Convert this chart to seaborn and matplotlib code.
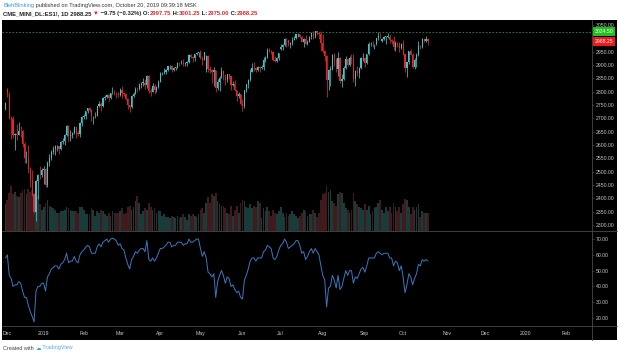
import numpy as np
import pandas as pd
import matplotlib
matplotlib.use('Agg')
import matplotlib.pyplot as plt
from matplotlib.patches import Rectangle
from matplotlib.lines import Line2D
from matplotlib.transforms import blended_transform_factory
import seaborn as sns

# ES1! daily bars, 2018-11-30 .. 2019-10-18
first_day = '2018-11-30'
holidays = ['2018-12-05', '2018-12-25', '2019-01-01', '2019-01-21', '2019-02-18',
            '2019-04-19', '2019-05-27', '2019-07-04', '2019-09-02', '2019-11-28',
            '2019-12-25', '2020-01-01', '2020-01-20', '2020-02-17']

opens = [2737, 2812, 2792, 2703, 2697, 2636, 2640, 2639, 2654, 2653,
         2604, 2552, 2552, 2510, 2469, 2418, 2351, 2467, 2488, 2486,
         2507, 2511, 2450, 2533, 2550, 2575, 2586, 2597, 2597, 2584,
         2611, 2617, 2637, 2672, 2634, 2639, 2644, 2666, 2645, 2641,
         2683, 2705, 2708, 2726, 2738, 2733, 2708, 2709, 2710, 2745,
         2755, 2747, 2777, 2781, 2786, 2776, 2794, 2797, 2795, 2794,
         2786, 2806, 2794, 2791, 2773, 2750, 2744, 2785, 2793, 2812,
         2810, 2824, 2834, 2834, 2826, 2857, 2803, 2800, 2820, 2807,
         2817, 2836, 2869, 2869, 2875, 2882, 2895, 2897, 2880, 2890,
         2890, 2909, 2908, 2909, 2902, 2908, 2910, 2936, 2929, 2928,
         2942, 2945, 2948, 2926, 2920, 2880, 2935, 2886, 2881, 2873,
         2883, 2813, 2836, 2853, 2878, 2862, 2842, 2866, 2859, 2824,
         2828, 2805, 2785, 2790, 2754, 2746, 2805, 2828, 2845, 2875,
         2888, 2887, 2881, 2892, 2889, 2891, 2919, 2928, 2956, 2952,
         2947, 2919, 2915, 2926, 2960, 2966, 2975, 2998, 2992, 2978,
         2981, 2995, 3002, 3015, 3016, 3006, 2987, 2997, 2979, 2987,
         3006, 3021, 3006, 3027, 3021, 3015, 2982, 2954, 2934, 2845,
         2883, 2884, 2939, 2920, 2884, 2927, 2841, 2849, 2889, 2924,
         2901, 2925, 2923, 2848, 2879, 2870, 2889, 2925, 2927, 2908,
         2940, 2978, 2980, 2979, 2980, 3001, 3010, 2990, 2998, 3006,
         3006, 3006, 2992, 2991, 2966, 2984, 2978, 2962, 2978, 2941,
         2888, 2911, 2952, 2939, 2893, 2919, 2939, 2970, 2966, 2997,
         2991, 2997.75]

highs = [2762, 2815, 2798, 2708, 2709, 2645, 2680, 2685, 2672, 2657,
         2612, 2576, 2600, 2516, 2508, 2420, 2469, 2490, 2520, 2513,
         2520, 2513, 2539, 2568, 2582, 2597, 2599, 2600, 2598, 2614,
         2627, 2643, 2676, 2675, 2657, 2648, 2673, 2668, 2652, 2688,
         2708, 2717, 2727, 2740, 2742, 2735, 2710, 2724, 2748, 2764,
         2762, 2780, 2787, 2791, 2790, 2795, 2818, 2806, 2799, 2798,
         2815, 2823, 2800, 2796, 2775, 2752, 2788, 2800, 2819, 2816,
         2832, 2837, 2852, 2846, 2861, 2862, 2813, 2832, 2828, 2822,
         2843, 2872, 2874, 2889, 2884, 2897, 2900, 2899, 2893, 2894,
         2911, 2913, 2918, 2922, 2911, 2914, 2940, 2940, 2933, 2943,
         2950, 2950, 2956, 2934, 2950, 2937, 2938, 2898, 2884, 2892,
         2883, 2848, 2860, 2892, 2880, 2862, 2868, 2868, 2860, 2840,
         2843, 2806, 2800, 2791, 2771, 2808, 2830, 2848, 2884, 2906,
         2913, 2891, 2898, 2895, 2899, 2931, 2934, 2962, 2965, 2956,
         2952, 2933, 2930, 2945, 2980, 2978, 3000, 3001, 2994, 2987,
         3006, 3008, 3016, 3020, 3018, 3010, 3000, 3013, 2994, 3008,
         3022, 3027, 3028, 3029, 3022, 3027, 3018, 2955, 2936, 2884,
         2895, 2940, 2946, 2925, 2947, 2929, 2866, 2895, 2934, 2928,
         2932, 2940, 2941, 2880, 2898, 2893, 2931, 2944, 2930, 2941,
         2985, 2985, 2989, 2980, 3003, 3022, 3021, 3000, 3007, 3008,
         3021, 3017, 2999, 3007, 2989, 2988, 2988, 2983, 2995, 2943,
         2913, 2954, 2960, 2946, 2926, 2946, 2991, 2975, 3000, 3002,
         3008, 3001.25]

lows = [2730, 2782, 2698, 2621, 2627, 2583, 2620, 2638, 2632, 2594,
        2531, 2534, 2497, 2444, 2410, 2346, 2317, 2397, 2472, 2480,
        2456, 2444, 2443, 2522, 2545, 2568, 2563, 2578, 2568, 2580,
        2604, 2600, 2634, 2617, 2615, 2625, 2643, 2628, 2633, 2631,
        2673, 2697, 2699, 2722, 2725, 2689, 2680, 2702, 2708, 2742,
        2727, 2743, 2768, 2775, 2765, 2773, 2790, 2786, 2776, 2780,
        2785, 2775, 2783, 2768, 2737, 2724, 2740, 2780, 2790, 2800,
        2806, 2815, 2823, 2812, 2815, 2796, 2785, 2798, 2791, 2799,
        2815, 2835, 2862, 2866, 2868, 2876, 2884, 2875, 2876, 2882,
        2888, 2898, 2903, 2895, 2895, 2896, 2906, 2925, 2912, 2916,
        2938, 2930, 2922, 2901, 2917, 2872, 2873, 2870, 2833, 2823,
        2800, 2808, 2802, 2850, 2845, 2826, 2838, 2849, 2806, 2822,
        2803, 2767, 2778, 2750, 2729, 2740, 2798, 2815, 2840, 2874,
        2879, 2873, 2878, 2874, 2885, 2882, 2910, 2926, 2948, 2942,
        2914, 2913, 2912, 2920, 2955, 2958, 2972, 2967, 2970, 2963,
        2975, 2992, 2998, 3006, 3000, 2986, 2969, 2977, 2976, 2985,
        2996, 2999, 3003, 3014, 2999, 2954, 2945, 2914, 2779, 2808,
        2823, 2880, 2898, 2875, 2858, 2834, 2818, 2842, 2885, 2898,
        2898, 2905, 2836, 2822, 2860, 2853, 2885, 2915, 2891, 2905,
        2938, 2972, 2969, 2960, 2976, 2992, 3002, 2988, 2992, 2979,
        3002, 2984, 2980, 2958, 2952, 2966, 2950, 2960, 2937, 2875,
        2855, 2902, 2936, 2890, 2886, 2893, 2934, 2959, 2965, 2986,
        2987, 2975]

closes = [2758, 2795, 2703, 2697, 2636, 2640, 2639, 2654, 2653, 2604,
          2552, 2552, 2510, 2469, 2418, 2351, 2467, 2488, 2486, 2507,
          2511, 2450, 2533, 2550, 2575, 2586, 2597, 2597, 2584, 2611,
          2617, 2637, 2672, 2634, 2639, 2644, 2666, 2645, 2641, 2683,
          2705, 2708, 2726, 2738, 2733, 2708, 2709, 2710, 2745, 2755,
          2747, 2777, 2781, 2786, 2776, 2794, 2797, 2795, 2794, 2786,
          2806, 2794, 2791, 2773, 2750, 2744, 2785, 2793, 2812, 2810,
          2824, 2834, 2834, 2826, 2857, 2803, 2800, 2820, 2807, 2817,
          2836, 2869, 2869, 2875, 2882, 2895, 2897, 2880, 2890, 2890,
          2909, 2908, 2909, 2902, 2908, 2910, 2936, 2929, 2928, 2942,
          2945, 2948, 2926, 2920, 2948, 2935, 2886, 2881, 2873, 2883,
          2813, 2836, 2853, 2878, 2862, 2842, 2866, 2859, 2824, 2828,
          2805, 2785, 2790, 2754, 2746, 2805, 2828, 2845, 2875, 2888,
          2887, 2881, 2892, 2889, 2891, 2919, 2928, 2956, 2952, 2947,
          2919, 2915, 2926, 2944, 2966, 2975, 2998, 2992, 2978, 2981,
          2995, 3002, 3015, 3016, 3006, 2987, 2997, 2979, 2987, 3006,
          3021, 3006, 3027, 3021, 3015, 2982, 2954, 2934, 2845, 2883,
          2884, 2939, 2920, 2884, 2927, 2841, 2849, 2889, 2924, 2901,
          2925, 2923, 2848, 2879, 2870, 2889, 2925, 2927, 2908, 2940,
          2978, 2980, 2979, 2980, 3001, 3010, 3008, 2998, 3006, 3006,
          3006, 2992, 2991, 2966, 2984, 2978, 2962, 2978, 2941, 2888,
          2911, 2952, 2939, 2893, 2919, 2939, 2970, 2966, 2997, 2991,
          2998, 2988.25]

# volume, thousands of contracts
volumes = [1900, 2200, 2700, 3200, 2600, 2800, 2500, 2400, 2700, 2900,
           3000, 2600, 3000, 2800, 2900, 1700, 2400, 2500, 1900, 1500,
           1700, 2000, 2200, 1800, 1700, 1600, 1500, 1300, 1300, 1400,
           1400, 1500, 1700, 1600, 1500, 1400, 1400, 1400, 1300, 1700,
           1700, 1500, 1200, 1200, 1200, 1600, 1500, 1100, 1400, 1300,
           1500, 1400, 1200, 1100, 1300, 1100, 1400, 1300, 1300, 1300,
           1400, 1600, 1200, 1300, 1700, 1800, 1500, 1700, 2100, 2500,
           2000, 1200, 1400, 1600, 1500, 2000, 1700, 1500, 1600, 1300,
           1400, 1400, 1100, 1200, 1000, 1000, 900, 1100, 1000, 900,
           1100, 900, 1000, 1200, 1000, 800, 1200, 1100, 1200, 1100,
           1000, 1200, 1500, 1600, 1300, 2000, 2400, 2000, 2600, 2500,
           2700, 2100, 1900, 1800, 1800, 1600, 1300, 1200, 1800, 1100,
           1500, 1800, 1300, 2000, 2200, 2100, 1700, 1600, 1900, 1600,
           1800, 1700, 2100, 2000, 900, 1600, 1400, 1700, 1400, 1100,
           1500, 1300, 1200, 1400, 1700, 1300, 1000, 1300, 1100, 1200,
           1400, 1200, 1100, 900, 1100, 1300, 1500, 1400, 1100, 1200,
           1200, 1500, 1300, 1000, 1300, 2200, 2600, 2700, 3200, 2800,
           2900, 2100, 2000, 1800, 2600, 2800, 2700, 2000, 1600, 1500,
           1300, 1500, 2700, 2100, 1900, 1700, 1600, 1500, 1900, 1500,
           1800, 1200, 1400, 1600, 1700, 2000, 2200, 1500, 1300, 1700,
           1400, 1700, 1300, 2000, 1700, 1400, 1700, 1300, 1900, 2300,
           2200, 1700, 1200, 1700, 1500, 1700, 1900, 1000, 1400, 1300,
           1300, 1300]

# RSI(14) pane
rsi_values = [58, 60, 47, 45, 40, 41, 41, 43, 42, 37,
              33, 33, 28, 24, 21, 17.5, 37, 40, 40, 42,
              42, 37, 46, 48, 51, 52, 53, 53, 51, 54,
              55, 57, 61, 55, 56, 56, 59, 56, 55, 60,
              62, 63, 65, 66, 65, 61, 61, 61, 65, 67,
              65, 68, 69, 70, 68, 70, 70.5, 70, 69, 66,
              67, 64, 63, 58, 54, 51, 57, 59, 62, 61,
              63, 64, 64, 62, 69, 57, 56, 58, 56, 58,
              61, 64, 64, 65, 66, 68, 68, 65, 66, 66,
              68, 68, 68, 66, 67, 67, 70, 68, 68, 69,
              70, 70, 64, 59, 62, 58, 49, 48, 46, 48,
              33, 43, 47, 50, 47, 42, 46, 45, 40, 41,
              38, 36, 37, 33, 32, 44, 47, 51, 56, 58,
              58, 56, 58, 58, 58, 62, 63, 66, 65, 64,
              58, 57, 59, 63, 66, 67, 70, 68, 64, 65,
              66, 67, 69, 69, 66, 61, 62, 57, 59, 62,
              64, 61, 64, 62, 60, 53, 47, 44, 27, 39,
              40, 47, 44, 39, 47, 38, 40, 45, 50, 47,
              50, 50, 42, 46, 45, 48, 51, 52, 49, 53,
              58, 58, 58, 58, 61, 62, 61, 60, 61, 61,
              61, 58, 58, 53, 56, 55, 50, 53, 46, 36,
              41, 48, 46, 41, 45, 48, 54, 53, 57, 56,
              57, 56]

alert_level = 3024.50
last_close = 2988.25
price_ticks = list(range(2300, 3051, 50))
hidden_price_ticks = [3000]  # covered by the last-price tag
rsi_ticks = [20, 30, 40, 50, 60, 70]

UP = '#3cc6c9'
DOWN = '#e3262d'
VOL_UP = '#193b3a'
VOL_DOWN = '#401a1c'
RSI_COLOR = '#3a78c0'
AXIS_TXT = '#c9c9c9'
SEP = '#4a4a4a'

W, H = 620, 356


def fx(px):
    return px / W


def fy(py):
    return 1 - py / H


def text_run(fig, x_px, y_px, pieces, size, weight='normal'):
    renderer = fig.canvas.get_renderer()
    x = x_px
    for s, col in pieces:
        t = fig.text(fx(x), fy(y_px), s, color=col, fontsize=size,
                     fontweight=weight, va='center', ha='left')
        x = t.get_window_extent(renderer).x1
    return x


sns.set_style('dark')
plt.rcParams['font.family'] = ['Liberation Sans', 'DejaVu Sans']

n = len(closes)
idx = np.arange(n)
df = pd.DataFrame({'i': idx, 'open': opens, 'high': highs, 'low': lows,
                   'close': closes, 'volume': volumes, 'rsi': rsi_values})
df['dir'] = np.where(df['close'] >= df['open'], 'up', 'down')

# trading-day calendar, extended past the data for the future axis labels
cal = pd.bdate_range(first_day, '2020-02-28', freq='C', holidays=holidays)
month_pos, month_lab = [], []
for k in range(1, len(cal)):
    if cal[k].month != cal[k - 1].month:
        month_pos.append(k)
        month_lab.append(str(cal[k].year) if cal[k].month == 1 else cal[k].strftime('%b'))

fig = plt.figure(figsize=(W / 100, H / 100), dpi=100, facecolor='white')
fig.patches.append(Rectangle((fx(2), fy(340)), fx(615), 320 / H,
                             transform=fig.transFigure, facecolor='black',
                             edgecolor='none', zorder=-10))

main_box = [fx(2), fy(231), fx(590), 211 / H]
rsi_box = [fx(2), fy(326), fx(590), 95 / H]
xlim = (-1.78, 306.8)

# volume underlay
ax_vol = fig.add_axes(main_box)
ax_vol.set_facecolor('none')
sns.barplot(data=df, x='i', y='volume', hue='dir', palette={'up': VOL_UP, 'down': VOL_DOWN},
            native_scale=True, dodge=False, width=0.9, linewidth=0, saturation=1,
            errorbar=None, legend=False, ax=ax_vol)
ax_vol.set_xlim(*xlim)
ax_vol.set_ylim(0, 15000)
ax_vol.axis('off')

# candles
ax = fig.add_axes(main_box)
ax.set_facecolor('none')
colors = np.where(df['dir'] == 'up', UP, DOWN)
ax.vlines(df['i'], df['low'], df['high'], colors=colors, linewidth=0.55)
body = (df['close'] - df['open']).abs().clip(lower=1.2)
ax.bar(df['i'], body, bottom=df[['open', 'close']].min(axis=1), width=0.62,
       color=colors, linewidth=0)
ax.axhline(alert_level, color='#2f8f3a', linewidth=0.6, linestyle=(0, (2, 2)))
ax.set_xlim(*xlim)
ax.set_ylim(2278, 3068.7)
ax.set_xticks([])
ax.yaxis.tick_right()
ax.set_yticks(price_ticks)
ax.set_yticklabels(['' if v in hidden_price_ticks else f'{v:.2f}' for v in price_ticks])
ax.tick_params(axis='y', colors=SEP, labelcolor=AXIS_TXT, labelsize=3.7,
               length=1.5, width=0.5, pad=1.2)
for s in ax.spines.values():
    s.set_visible(False)
ax.set_xlabel('')
ax.set_ylabel('')

trans = blended_transform_factory(ax.transAxes, ax.transData)
ax.text(1.004, alert_level, f'{alert_level:.2f}', transform=trans, fontsize=3.7,
        color='white', va='center', ha='left',
        bbox=dict(boxstyle='square,pad=0.35', fc='#1ec21e', ec='none'))
ax.text(1.004, last_close, f'{last_close:.2f}', transform=trans, fontsize=3.7,
        color='white', va='center', ha='left',
        bbox=dict(boxstyle='square,pad=0.35', fc='#f01818', ec='none'))

# RSI pane
ax_r = fig.add_axes(rsi_box)
ax_r.set_facecolor('none')
sns.lineplot(data=df, x='i', y='rsi', color=RSI_COLOR, linewidth=0.7, ax=ax_r)
ax_r.set_xlim(*xlim)
ax_r.set_ylim(14.9, 75.1)
ax_r.yaxis.tick_right()
ax_r.set_yticks(rsi_ticks)
ax_r.set_yticklabels([f'{v:.2f}' for v in rsi_ticks])
ax_r.set_xticks(month_pos)
ax_r.set_xticklabels(month_lab)
ax_r.tick_params(axis='y', colors=SEP, labelcolor=AXIS_TXT, labelsize=3.7,
                 length=1.5, width=0.5, pad=1.2)
ax_r.tick_params(axis='x', colors=SEP, labelcolor=AXIS_TXT, labelsize=3.7,
                 length=1.5, width=0.5, pad=2.4)
for s in ax_r.spines.values():
    s.set_visible(False)
ax_r.set_xlabel('')
ax_r.set_ylabel('')

# pane separators
for y in (231, 326):
    fig.add_artist(Line2D([fx(2), fx(617)], [fy(y), fy(y)], color=SEP, linewidth=0.6))
fig.add_artist(Line2D([fx(592), fx(592)], [fy(20), fy(340)], color=SEP, linewidth=0.6))

# header and footer
text_run(fig, 3, 6, [('BlehBlinking', '#3a9ae8'),
                     (' published on TradingView.com, October 20, 2019 09:39:18 MSK', '#333333')], 4.1)
text_run(fig, 3, 13.5, [('CME_MINI_DL:ES1!, 1D 2988.25 ', '#222222'), ('▼', DOWN),
                        (' \u22129.75 (\u22120.32%) O:', '#222222'), ('2997.75', DOWN),
                        (' H:', '#222222'), ('3001.25', DOWN), (' L:', '#222222'),
                        ('2975.00', DOWN), (' C:', '#222222'), ('2988.25', DOWN)], 4.2, 'bold')
text_run(fig, 3, 348, [('Created with ', '#444444'), ('☁', '#4a9fe0'),
                       (' TradingView', '#5aaae6')], 4.0)

fig.savefig('out.png', dpi=100, facecolor='white')
